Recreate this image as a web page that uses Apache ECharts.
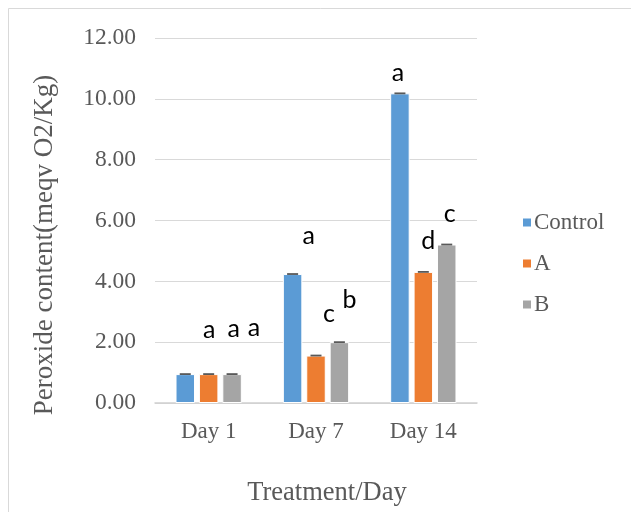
<!DOCTYPE html>
<html>
<head>
<meta charset="utf-8">
<script src="https://cdn.jsdelivr.net/npm/echarts@6/dist/echarts.min.js"></script>
<style>
  html, body { margin: 0; padding: 0; background: #fff; }
  #chart { width: 631px; height: 512px; }
</style>
</head>
<body>
<div id="chart"></div>
<script>
// Peroxide value per treatment over storage days
const categories = ['Day 1', 'Day 7', 'Day 14'];
const seriesNames = ['Control', 'A', 'B'];
const controlValues = [0.95, 4.24, 10.18];
const aValues = [0.95, 1.56, 4.31];
const bValues = [0.95, 2.00, 5.21];
const controlErrors = [0.03, 0.03, 0.03];
const aErrors = [0.03, 0.03, 0.03];
const bErrors = [0.03, 0.03, 0.03];
const controlLetters = ['a', 'a', 'a'];
const aLetters = ['a', 'c', 'd'];
const bLetters = ['a', 'b', 'c'];
const yTicks = [0, 2, 4, 6, 8, 10, 12];

const colors = ['#5b9bd5', '#ed7d31', '#a5a5a5'];
const values = [controlValues, aValues, bValues];
const errors = [controlErrors, aErrors, bErrors];
const letters = [controlLetters, aLetters, bLetters];

// where each significance letter sits relative to the top of its bar: [dx, dy]
const letterPlacement = [
  [[24, -44], [16, -38], [-2, -20]],
  [[25, -45], [13, -42], [5, -31]],
  [[22, -46], [10, -42], [3, -31]]
];

const BAR_W = 19.5;
const BAR_GAP = 0.2;
const serif = '"Liberation Serif", "Times New Roman", serif';
const textGrey = '#595959';

const barSeries = seriesNames.map((name, s) => ({
  name: name,
  type: 'bar',
  barWidth: BAR_W,
  barGap: (BAR_GAP * 100) + '%',
  itemStyle: { color: colors[s], borderColor: '#ffffff', borderWidth: 1 },
  emphasis: { disabled: true },
  data: values[s].map((v, i) => ({
    value: v,
    label: {
      show: true,
      formatter: letters[s][i],
      position: ['50%', letterPlacement[s][i][1]],
      offset: [letterPlacement[s][i][0], 0],
      align: 'center',
      verticalAlign: 'middle',
      fontFamily: 'Lato, "Open Sans", sans-serif',
      fontSize: 25,
      color: '#000000'
    }
  }))
}));

// small error bars drawn on top of each bar
const errorSeries = seriesNames.map((name, s) => ({
  type: 'custom',
  name: name + ' error',
  z: 5,
  silent: true,
  data: values[s].map((v, i) => [i, v, errors[s][i]]),
  renderItem: function (params, api) {
    const idx = api.value(0);
    const v = api.value(1);
    const e = api.value(2);
    const pitch = BAR_W * (1 + BAR_GAP);
    const top = api.coord([idx, v + e]);
    const bottom = api.coord([idx, v - e]);
    const x = top[0] + (s - 1) * pitch;
    const capW = 11;
    return {
      type: 'rect',
      shape: { x: x - capW / 2, y: top[1], width: capW, height: Math.max(bottom[1] - top[1], 1.5) },
      style: { fill: '#595959' }
    };
  }
}));

const chart = echarts.init(document.getElementById('chart'), null, { renderer: 'canvas' });
chart.setOption({
  animation: false,
  backgroundColor: '#ffffff',
  grid: { left: 155, right: 154, top: 38, bottom: 109, containLabel: false },
  legend: {
    data: seriesNames,
    orient: 'vertical',
    left: 516,
    top: 206,
    itemWidth: 10,
    itemHeight: 10,
    itemGap: 18,
    icon: 'rect',
    textStyle: { fontFamily: serif, fontSize: 23, color: textGrey, padding: [0, 0, 0, -3] }
  },
  xAxis: {
    type: 'category',
    data: categories,
    axisLine: { lineStyle: { color: '#d0d0d0', width: 1.5 } },
    axisTick: { show: false },
    axisLabel: { fontFamily: serif, fontSize: 23, color: textGrey, margin: 17 }
  },
  yAxis: {
    type: 'value',
    min: 0,
    max: yTicks[yTicks.length - 1],
    interval: yTicks[1] - yTicks[0],
    axisLine: { show: false },
    axisTick: { show: false },
    splitLine: { lineStyle: { color: '#d9d9d9', width: 1 } },
    axisLabel: {
      fontFamily: serif, fontSize: 23.5, color: textGrey, margin: 19,
      formatter: v => v.toFixed(2)
    }
  },
  graphic: [
    {
      type: 'rect',
      shape: { x: 8.5, y: 8.5, width: 800, height: 800 },
      style: { fill: 'none', stroke: '#d9d9d9', lineWidth: 1 },
      silent: true
    },
    {
      type: 'text',
      x: 45, y: 245,
      rotation: Math.PI / 2,
      style: {
        text: 'Peroxide content(meqv O2/Kg)',
        fontFamily: serif, fontSize: 27, fill: textGrey,
        align: 'center', verticalAlign: 'middle'
      }
    },
    {
      type: 'text',
      x: 327, y: 493,
      style: {
        text: 'Treatment/Day',
        fontFamily: serif, fontSize: 26.5, fill: textGrey,
        align: 'center', verticalAlign: 'middle'
      }
    }
  ],
  series: barSeries.concat(errorSeries)
});
</script>
</body>
</html>
